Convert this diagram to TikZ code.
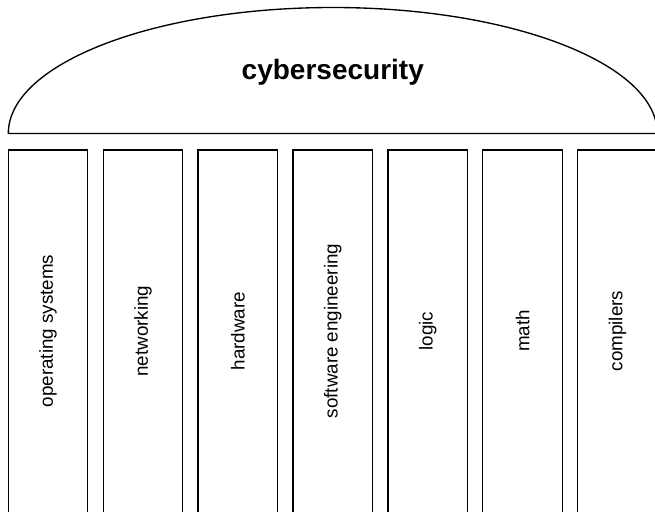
\documentclass[tikz,border=0pt]{standalone}
\usepackage{fontspec}
\setmainfont{Liberation Sans}
\begin{document}
\begin{tikzpicture}[x=1pt,y=-1pt,
  outline/.style={draw=black,line width=1.35pt},
  pillar/.style={outline},
  pillarlabel/.style={rotate=90,font=\fontsize{18.8}{22}\selectfont,inner sep=0pt},
  titlelabel/.style={font=\fontsize{28}{33}\selectfont\bfseries,inner sep=0pt}]
\useasboundingbox (0,0) rectangle (655,511);
\clip (0,0) rectangle (655,511);
% dome
\draw[outline] (8.3,133.5) arc[start angle=180,end angle=0,x radius=324.5,y radius=-126] -- cycle;
\node[titlelabel,anchor=base] (title) at (332.8,79.3) {cybersecurity};
% pillars
\foreach \i/\lab in {0/operating systems,1/networking,2/hardware,3/software engineering,4/logic,5/math,6/compilers}{
  \pgfmathsetmacro{\xl}{8.3+94.9*\i}
  \pgfmathsetmacro{\xc}{\xl+39.75}
  \draw[pillar] (\xl,530) -- (\xl,150) -- (\xl+79.5,150) -- (\xl+79.5,530);
  \node[pillarlabel] (p\i) at (\xc,331) {\lab};
}
\end{tikzpicture}
\end{document}
